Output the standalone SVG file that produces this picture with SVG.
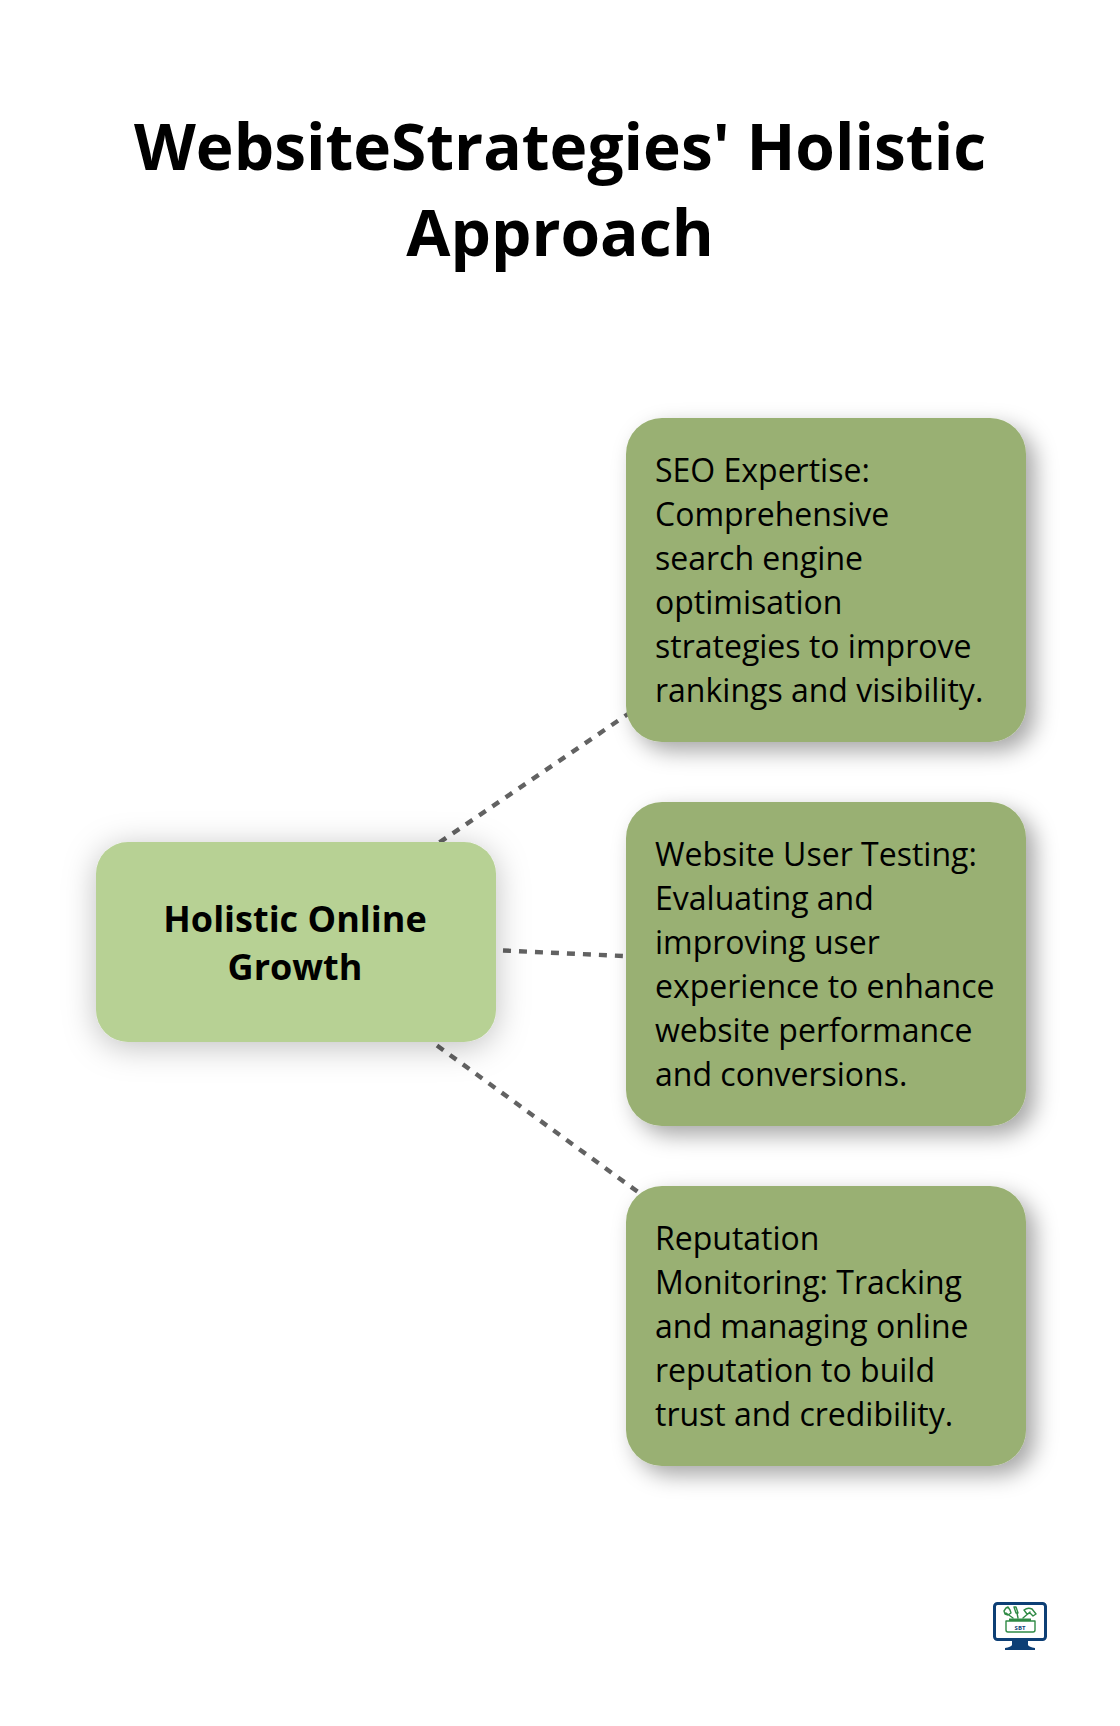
<svg xmlns="http://www.w3.org/2000/svg" width="1120" height="1726" viewBox="0 0 1120 1726">
<style>
text{font-family:"Open Sans","Noto Sans",sans-serif;fill:#000}
.t{font-size:64px;font-weight:700;text-anchor:middle}
.c{font-size:36px;font-weight:700;text-anchor:middle}
.b{font-size:32px}
.lnk{stroke:#626262;stroke-width:4.4;stroke-dasharray:8 8;fill:none}
.nd{fill:#99b073;filter:url(#s2)}
.tool{fill:none;stroke:#2f8a45;stroke-width:1.4;stroke-linecap:round;stroke-linejoin:round}
</style>
<defs>
<filter id="s1" x="-30%" y="-40%" width="160%" height="180%"><feDropShadow dx="0" dy="5" stdDeviation="16" flood-color="#000" flood-opacity="0.25"/></filter>
<filter id="s2" x="-20%" y="-20%" width="140%" height="140%"><feDropShadow dx="9" dy="9" stdDeviation="11" flood-color="#000" flood-opacity="0.35"/></filter>
</defs>
<rect width="1120" height="1726" fill="#fff"/>
<g id="title"><text class="t" x="560" y="170">WebsiteStrategies' Holistic</text><text class="t" x="560" y="256">Approach</text></g>
<g id="connectors">
<line class="lnk" x1="439.500" y1="842.400" x2="628" y2="714"/>
<line class="lnk" x1="503" y1="950.500" x2="623" y2="956"/>
<line class="lnk" x1="437" y1="1045.500" x2="638" y2="1192"/>
</g>
<g id="center"><rect x="96" y="842" width="400" height="200" rx="32" fill="#b7d194" filter="url(#s1)"/><text class="c" x="295" y="932">Holistic Online</text><text class="c" x="295" y="980">Growth</text></g>
<g id="n1"><rect class="nd" x="626" y="418" width="400" height="324" rx="36"/>
<text class="b" x="655" y="482">SEO Expertise:</text><text class="b" x="655" y="526">Comprehensive</text><text class="b" x="655" y="570">search engine</text><text class="b" x="655" y="614">optimisation</text><text class="b" x="655" y="658">strategies to improve</text><text class="b" x="655" y="702">rankings and visibility.</text></g>
<g id="n2"><rect class="nd" x="626" y="802" width="400" height="324" rx="36"/>
<text class="b" x="655" y="866">Website User Testing:</text><text class="b" x="655" y="910">Evaluating and</text><text class="b" x="655" y="954">improving user</text><text class="b" x="655" y="998">experience to enhance</text><text class="b" x="655" y="1042">website performance</text><text class="b" x="655" y="1086">and conversions.</text></g>
<g id="n3"><rect class="nd" x="626" y="1186" width="400" height="280" rx="36"/>
<text class="b" x="655" y="1250">Reputation</text><text class="b" x="655" y="1294">Monitoring: Tracking</text><text class="b" x="655" y="1338">and managing online</text><text class="b" x="655" y="1382">reputation to build</text><text class="b" x="655" y="1426">trust and credibility.</text></g>
<g id="logo">
<rect x="994.500" y="1603.500" width="51" height="36" rx="3" fill="#fff" stroke="#0d3f75" stroke-width="3"/>
<path d="M1012 1641h16v4q1 2 7 3v2h-30v-2q6-1 7-3z" fill="#0d3f75"/>
<path class="tool" d="M1006 1621h29v9q0 2-2 2h-25q-2 0-2-2z"/>
<path d="M1009 1618.500h22v2.500h-22z" fill="#2f8a45"/>
<path class="tool" d="M1013 1618l-7-5M1006 1608l-2 3 1 3 3 1 3-2-1-3-2-3zM1018 1618l-1-5M1014 1607l2 0 2 6-2 0zM1023 1618l7-6M1024 1610q4-3 8-1l4 5-3 2-3-3-3 1z"/>
<text x="1020" y="1630" text-anchor="middle" style="font-size:6px;font-weight:700;fill:#0d3f75">SBT</text>
</g>
</svg>
